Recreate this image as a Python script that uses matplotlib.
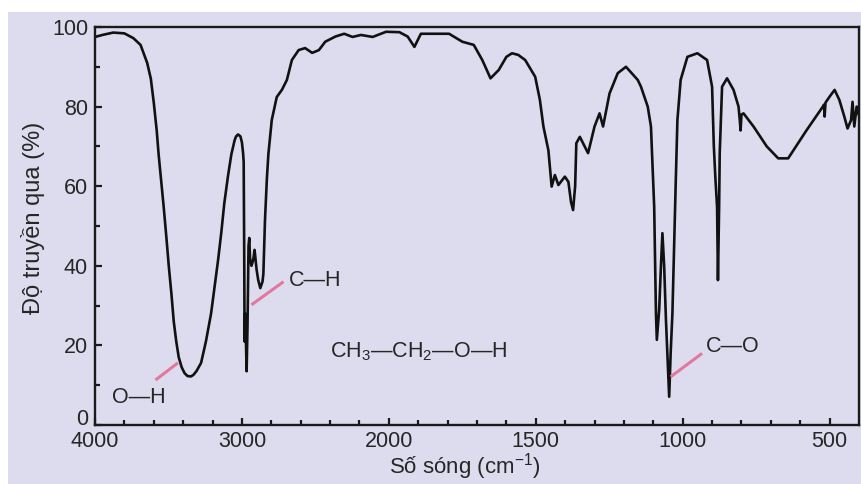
import numpy as np
import matplotlib.pyplot as plt
from matplotlib.patches import Rectangle
from matplotlib.ticker import FixedLocator, NullFormatter

plt.rcParams['font.family'] = ['Liberation Sans', 'DejaVu Sans']
plt.rcParams['mathtext.fontset'] = 'custom'
plt.rcParams['mathtext.rm'] = 'Liberation Sans'

# IR spectrum of ethanol (wavenumber cm-1, transmittance %)
wavenumber = [4000, 3950, 3876, 3800, 3739, 3690, 3645, 3620, 3600, 3580, 3567, 3550,
              3533, 3515, 3498, 3480, 3464, 3447, 3430, 3410, 3390, 3370, 3347, 3330,
              3310, 3278, 3245, 3210, 3185, 3162, 3140, 3120, 3095, 3072, 3050, 3040,
              3026, 3010, 3000,
              2992, 2988, 2984, 2982, 2978, 2972, 2968, 2962, 2955, 2950, 2945, 2935,
              2923, 2914, 2900, 2889, 2875, 2860, 2854, 2843, 2830, 2820, 2797, 2763,
              2728, 2694, 2660, 2614, 2570, 2522, 2476, 2433, 2364, 2304, 2247, 2190,
              2110, 2019, 1964, 1936, 1913, 1891, 1795, 1750, 1711, 1682, 1654, 1626,
              1600, 1581, 1560, 1536, 1502, 1486, 1474, 1457, 1446, 1435, 1423, 1401,
              1389, 1380, 1373, 1366, 1362, 1350, 1322, 1300, 1283, 1271, 1249, 1221,
              1193, 1153, 1142, 1119, 1108, 1097, 1094, 1091, 1088, 1080, 1074, 1069,
              1063, 1057, 1046, 1041, 1035, 1030, 1024, 1018, 1007, 984, 950, 917,
              900, 894, 889, 883, 880, 876, 874, 866, 849, 827, 810, 805, 803, 800,
              793, 759, 714, 675, 641, 579, 523, 519, 517, 514, 500, 483, 467, 450,
              439, 427, 422, 416, 408, 401]
transmittance = [97.5, 98.0, 98.6, 98.4, 97.2, 95.5, 91, 87, 81, 74, 68, 61.5,
                 55, 47.5, 40, 33, 26, 21, 17, 14.5, 13, 12.3, 12.2, 12.6,
                 13.5, 15.6, 21, 28, 35, 41.5, 48.5, 55.7, 62.5, 68, 71.5, 72.5,
                 73, 72.5, 71,
                 68.3, 66, 40, 21, 28, 20, 13.5, 25, 45, 47, 42, 40,
                 41.5, 44, 39, 36.4, 34.4, 36, 38, 51.5, 62, 68, 76.6, 82.4,
                 84.2, 86.7, 91.7, 94.2, 94.7, 93.5, 94.2, 96.3, 97.6, 98.3, 97.5, 98,
                 97.5, 98.8, 98.7, 97.6, 95, 98.3, 98.3, 96.3, 95.5, 91.7, 87.1, 89.2,
                 92.5, 93.4, 93, 91.7, 87.5, 81.7, 75, 69, 59.9, 62.8, 60.3, 62.4,
                 61.1, 56, 54, 60, 70.8, 72.4, 68.3, 75, 78.3, 75, 83.3, 88.4,
                 90, 86.7, 85, 80, 75, 54.8, 41.5, 28, 21.4, 29, 40, 48.2,
                 39.8, 26.4, 7.1, 18, 28, 43, 60, 76.6, 86.7, 92.5, 93.4, 91.7,
                 85, 70, 62.4, 54.8, 36.4, 55, 68.3, 85, 87.1, 84.2, 80, 76, 74, 78,
                 78.3, 75, 70, 67, 67, 74, 80, 80.5, 77.5, 81, 82.5, 84.2, 81.7, 77.5,
                 74.5, 76.6, 81.2, 75, 80, 78]

major_x = [4000, 3000, 2000, 1500, 1000, 500]
minor_x = list(range(3800, 2000, -200)) + [w for w in range(1900, 400, -100) if w not in (1500, 1000, 500)]

# bond labels: (text, x, y, alignment) and the pink leader lines
bond_labels = [('O\u2014H', 3704, 7.0, 'center'),
               ('C\u2014H', 2680, 36.4, 'left'),
               ('C\u2014O', 922, 19.8, 'left')]
leaders = [([3588, 3436], [11.3, 15.6]),
           ([2935, 2717], [30.2, 36.0]),
           ([1041, 934], [12.1, 18.0])]
formula = r'CH$_\mathregular{3}$' + '\u2014' + r'CH$_\mathregular{2}$' + '\u2014O\u2014H'


# wavenumber axis is compressed 2x above 2000 cm-1, like the usual IR charts
def fwd(w):
    w = np.asarray(w, dtype=float)
    return np.where(w >= 2000, w, 2 * w - 2000)


def inv(f):
    f = np.asarray(f, dtype=float)
    return np.where(f >= 2000, f, (f + 2000) / 2)


fig = plt.figure(figsize=(8.62, 4.84), dpi=100)
fig.patch.set_facecolor('white')
fig.patches.append(Rectangle((8 / 862, 0), 1, 472 / 484, transform=fig.transFigure,
                             facecolor='#dddcee', edgecolor='none', zorder=-10))

ax = fig.add_axes([95 / 862, 59 / 484, 764 / 862, 398 / 484])
ax.set_facecolor('none')
ax.set_xscale('function', functions=(fwd, inv))
ax.set_xlim(4000, 400)
ax.set_ylim(0, 100)

ax.plot(wavenumber, transmittance, color='#111111', lw=1.9, solid_joinstyle='round')

for xs, ys in leaders:
    ax.plot(xs, ys, color='#e2789c', lw=2.2, solid_capstyle='butt')
for txt, x, y, ha in bond_labels:
    ax.text(x, y, txt, fontsize=15.5, ha=ha, va='center', color='#262626')
ax.text(2399, 18.3, formula, fontsize=15.5, ha='left', va='center', color='#262626')

ax.xaxis.set_major_locator(FixedLocator(major_x))
ax.xaxis.set_minor_locator(FixedLocator(minor_x))
ax.xaxis.set_minor_formatter(NullFormatter())
ax.set_yticks(range(0, 101, 20))
ax.set_yticks(range(10, 100, 20), minor=True)

ax.tick_params(which='both', direction='in', width=1.6, colors='#1a1a1a', labelsize=15.5,
               labelcolor='#262626')
ax.tick_params(which='major', length=5)
ax.tick_params(which='minor', length=3.5)
ax.tick_params(axis='x', pad=4)
ax.tick_params(axis='y', pad=5)
for s in ax.spines.values():
    s.set_linewidth(1.7)
    s.set_color('#1a1a1a')
# the "0" label sits a little above the corner, clear of "4000"
ax.yaxis.get_major_ticks()[0].label1.set_va('baseline')

ax.set_xlabel(r'Số sóng (cm$^\mathregular{-1}$)', fontsize=16, color='#262626')
ax.xaxis.label.set_va('bottom')
ax.xaxis.set_label_coords(0.484, -0.142)
ax.set_ylabel('Độ truyền qua (%)', fontsize=17, color='#262626')
ax.yaxis.set_label_coords(-0.066, 0.52)

fig.savefig('out.png', dpi=100)
